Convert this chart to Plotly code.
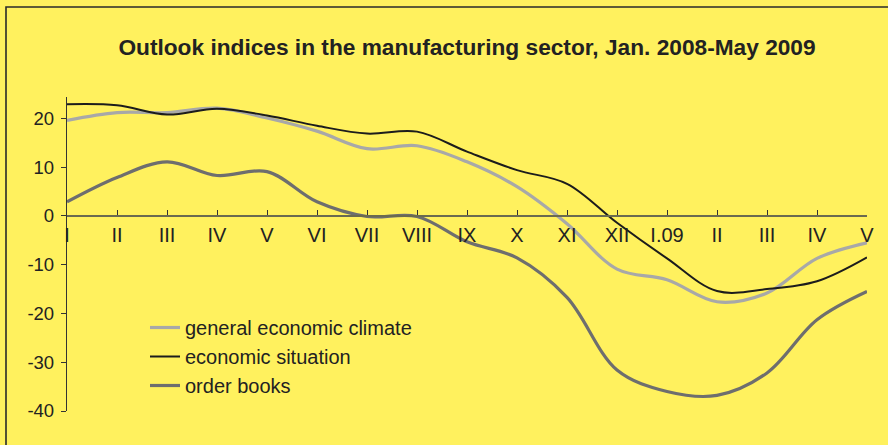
import plotly.graph_objects as go

# Monthly survey indices, January 2008 - May 2009
months = ["I", "II", "III", "IV", "V", "VI", "VII", "VIII", "IX", "X", "XI", "XII",
          "I.09", "II", "III", "IV", "V"]

general_climate = [19.6, 21.2, 21.2, 22.1, 20.1, 17.4, 13.8, 14.4, 11.1, 6.0, -1.6, -10.9,
                   -13.1, -17.6, -15.8, -8.7, -5.5]
economic_situation = [22.9, 22.7, 20.8, 22.0, 20.6, 18.5, 16.9, 17.3, 13.2, 9.4, 6.6, -1.4,
                      -8.7, -15.4, -15.0, -13.4, -8.5]
order_books = [2.9, 7.9, 11.1, 8.3, 9.1, 2.9, -0.1, -0.1, -5.3, -8.6, -16.7, -31.6,
               -36.0, -36.8, -32.2, -21.3, -15.5]

y_ticks = [-40, -30, -20, -10, 0, 10, 20]

BG = "#FFF15E"
TEXT = "#222222"
FONT = "Liberation Sans, Arial, sans-serif"

x_idx = list(range(len(months)))

series = [
    ("general economic climate", general_climate, "#A8A8A8", 3.2),
    ("economic situation", economic_situation, "#1C1C1C", 2.0),
    ("order books", order_books, "#6E6E6E", 3.2),
]

fig = go.Figure()
for name, vals, color, width in series:
    fig.add_trace(go.Scatter(
        x=x_idx, y=vals, name=name, mode="lines",
        line=dict(color=color, width=width, shape="spline", smoothing=1.0),
        hoverinfo="skip",
    ))

y_min, y_max = -40, 24.4
zero_pos = (0 - y_min) / (y_max - y_min)

fig.update_layout(
    width=888, height=445,
    margin=dict(l=67, r=21, t=97, b=34, pad=0),
    paper_bgcolor=BG, plot_bgcolor=BG,
    font=dict(family=FONT, color=TEXT, size=18),
    title=dict(
        text="<b>Outlook indices in the manufacturing sector, Jan. 2008-May 2009</b>",
        x=0.5, xanchor="center", xref="paper",
        y=1 - 47 / 445, yanchor="middle", yref="container",
        font=dict(family=FONT, size=22.7, color=TEXT),
    ),
    showlegend=True,
    legend=dict(
        x=(145 - 67) / 800, xanchor="left",
        y=1 - (308 - 97) / 314, yanchor="top",
        bgcolor="rgba(0,0,0,0)", borderwidth=0,
        font=dict(family=FONT, size=20, color=TEXT),
        itemwidth=30, tracegroupgap=0,
    ),
    xaxis=dict(
        range=[0, len(months) - 1],
        tickmode="array", tickvals=x_idx, ticktext=months,
        showgrid=False, zeroline=False,
        showline=True, linecolor="#6A6A50", linewidth=2,
        ticks="inside", ticklen=5, tickwidth=1.3, tickcolor="#333333",
        anchor="free", position=zero_pos, side="bottom",
        ticklabelstandoff=1,
        tickfont=dict(family=FONT, size=20, color=TEXT),
        fixedrange=True,
    ),
    yaxis=dict(
        range=[y_min, y_max],
        tickmode="array", tickvals=y_ticks, ticktext=[str(v) for v in y_ticks],
        showgrid=False, zeroline=False,
        showline=True, linecolor="#333333", linewidth=1.3,
        ticks="outside", ticklen=5, tickwidth=1.3, tickcolor="#333333",
        ticklabelstandoff=3,
        tickfont=dict(family=FONT, size=18.5, color=TEXT),
        fixedrange=True,
    ),
    shapes=[
        # frame around the chart panel (left and top edges)
        dict(type="rect", xref="paper", yref="paper",
             x0=(6 - 67) / 800, x1=1.2,
             y0=-0.5, y1=1 + (97 - 7) / 314,
             line=dict(color="#2A2A2A", width=1.6), fillcolor="rgba(0,0,0,0)",
             layer="below"),
    ],
)

fig.write_html("out.html")
